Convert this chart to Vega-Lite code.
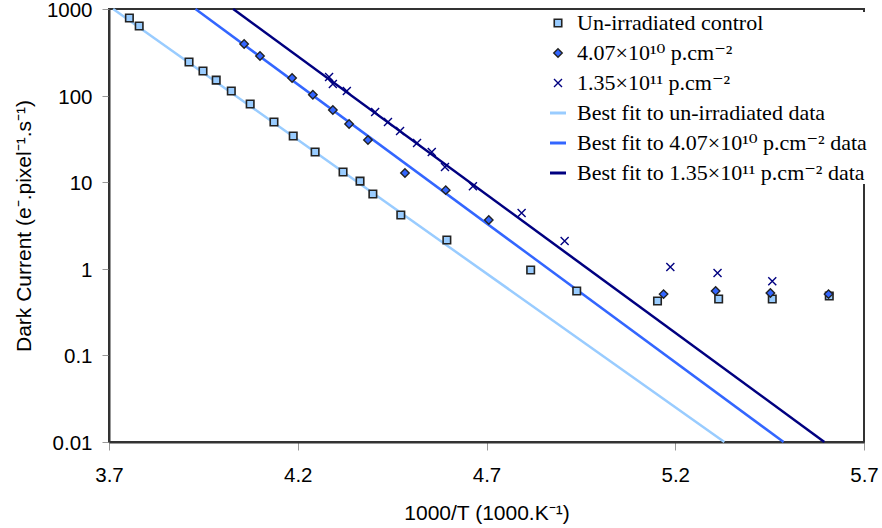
{
  "$schema": "https://vega.github.io/schema/vega-lite/v6.json",
  "width": 755,
  "height": 433,
  "autosize": {"type": "none"},
  "padding": {"left": 109, "top": 9, "right": 18, "bottom": 86},
  "background": "white",
  "config": {
    "view": {"stroke": "#333333", "strokeWidth": 2},
    "axis": {
      "grid": false,
      "domainColor": "#333333",
      "domainWidth": 2,
      "tickColor": "#999999",
      "tickWidth": 1,
      "tickSize": 7,
      "labelFont": "Liberation Sans",
      "labelFontSize": 20.5,
      "labelColor": "#000000",
      "titleFont": "Liberation Sans",
      "titleFontSize": 21,
      "titleFontWeight": "normal",
      "titleColor": "#000000",
      "labelOverlap": false,
      "labelFlush": false
    },
    "axisX": {"labelPadding": 15, "titlePadding": 17, "tickSize": 8},
    "axisY": {"labelPadding": 10, "titlePadding": 12, "labelOffset": 1.5},
    "legend": {
      "orient": "none",
      "legendX": 438,
      "legendY": 3,
      "labelFont": "Liberation Serif, DejaVu Serif",
      "labelFontSize": 22,
      "labelColor": "#000000",
      "labelOffset": 8,
      "rowPadding": 8,
      "padding": 0,
      "labelLimit": 400,
      "fillColor": "white"
    }
  },
  "datasets": {
    "points": [
      {"series": "Un-irradiated control", "x": 3.754, "y": 787},
      {"series": "Un-irradiated control", "x": 3.780, "y": 637},
      {"series": "Un-irradiated control", "x": 3.912, "y": 244},
      {"series": "Un-irradiated control", "x": 3.949, "y": 192},
      {"series": "Un-irradiated control", "x": 3.984, "y": 151},
      {"series": "Un-irradiated control", "x": 4.024, "y": 113},
      {"series": "Un-irradiated control", "x": 4.074, "y": 80},
      {"series": "Un-irradiated control", "x": 4.137, "y": 49.6},
      {"series": "Un-irradiated control", "x": 4.188, "y": 34.2},
      {"series": "Un-irradiated control", "x": 4.246, "y": 22.3},
      {"series": "Un-irradiated control", "x": 4.320, "y": 13.1},
      {"series": "Un-irradiated control", "x": 4.365, "y": 10.3},
      {"series": "Un-irradiated control", "x": 4.399, "y": 7.3},
      {"series": "Un-irradiated control", "x": 4.473, "y": 4.18},
      {"series": "Un-irradiated control", "x": 4.595, "y": 2.15},
      {"series": "Un-irradiated control", "x": 4.817, "y": 0.97},
      {"series": "Un-irradiated control", "x": 4.939, "y": 0.555},
      {"series": "Un-irradiated control", "x": 5.153, "y": 0.425},
      {"series": "Un-irradiated control", "x": 5.315, "y": 0.448},
      {"series": "Un-irradiated control", "x": 5.457, "y": 0.448},
      {"series": "Un-irradiated control", "x": 5.608, "y": 0.485},
      {"series": "4.07×10¹⁰ p.cm⁻²", "x": 4.058, "y": 394},
      {"series": "4.07×10¹⁰ p.cm⁻²", "x": 4.100, "y": 287},
      {"series": "4.07×10¹⁰ p.cm⁻²", "x": 4.185, "y": 160},
      {"series": "4.07×10¹⁰ p.cm⁻²", "x": 4.240, "y": 102},
      {"series": "4.07×10¹⁰ p.cm⁻²", "x": 4.293, "y": 68},
      {"series": "4.07×10¹⁰ p.cm⁻²", "x": 4.336, "y": 47},
      {"series": "4.07×10¹⁰ p.cm⁻²", "x": 4.386, "y": 30.7},
      {"series": "4.07×10¹⁰ p.cm⁻²", "x": 4.484, "y": 12.8},
      {"series": "4.07×10¹⁰ p.cm⁻²", "x": 4.592, "y": 8.1},
      {"series": "4.07×10¹⁰ p.cm⁻²", "x": 4.706, "y": 3.66},
      {"series": "4.07×10¹⁰ p.cm⁻²", "x": 5.169, "y": 0.51},
      {"series": "4.07×10¹⁰ p.cm⁻²", "x": 5.307, "y": 0.555},
      {"series": "4.07×10¹⁰ p.cm⁻²", "x": 5.452, "y": 0.526},
      {"series": "4.07×10¹⁰ p.cm⁻²", "x": 5.606, "y": 0.51},
      {"series": "1.35×10¹¹ p.cm⁻²", "x": 4.283, "y": 164},
      {"series": "1.35×10¹¹ p.cm⁻²", "x": 4.293, "y": 136},
      {"series": "1.35×10¹¹ p.cm⁻²", "x": 4.330, "y": 113},
      {"series": "1.35×10¹¹ p.cm⁻²", "x": 4.405, "y": 64.7},
      {"series": "1.35×10¹¹ p.cm⁻²", "x": 4.439, "y": 49.6},
      {"series": "1.35×10¹¹ p.cm⁻²", "x": 4.471, "y": 39},
      {"series": "1.35×10¹¹ p.cm⁻²", "x": 4.516, "y": 28.4},
      {"series": "1.35×10¹¹ p.cm⁻²", "x": 4.555, "y": 22.3},
      {"series": "1.35×10¹¹ p.cm⁻²", "x": 4.590, "y": 15},
      {"series": "1.35×10¹¹ p.cm⁻²", "x": 4.664, "y": 9.0},
      {"series": "1.35×10¹¹ p.cm⁻²", "x": 4.793, "y": 4.41},
      {"series": "1.35×10¹¹ p.cm⁻²", "x": 4.907, "y": 2.09},
      {"series": "1.35×10¹¹ p.cm⁻²", "x": 5.187, "y": 1.05},
      {"series": "1.35×10¹¹ p.cm⁻²", "x": 5.312, "y": 0.895},
      {"series": "1.35×10¹¹ p.cm⁻²", "x": 5.457, "y": 0.72}
    ],
    "fits": [
      {"series": "Best fit to un-irradiated data", "x": 3.711, "y": 1000},
      {"series": "Best fit to un-irradiated data", "x": 5.330, "y": 0.01},
      {"series": "Best fit to 4.07×10¹⁰ p.cm⁻² data", "x": 3.929, "y": 1000},
      {"series": "Best fit to 4.07×10¹⁰ p.cm⁻² data", "x": 5.487, "y": 0.01},
      {"series": "Best fit to 1.35×10¹¹ p.cm⁻² data", "x": 4.029, "y": 1000},
      {"series": "Best fit to 1.35×10¹¹ p.cm⁻² data", "x": 5.595, "y": 0.01}
    ]
  },
  "encoding": {
    "x": {
      "field": "x",
      "type": "quantitative",
      "scale": {"domain": [3.7, 5.7], "nice": false, "zero": false},
      "axis": {"values": [3.7, 4.2, 4.7, 5.2, 5.7], "format": ".1f", "title": "1000/T (1000.K⁻¹)"}
    },
    "y": {
      "field": "y",
      "type": "quantitative",
      "scale": {"type": "log", "domain": [0.01, 1000], "nice": false},
      "axis": {"values": [0.01, 0.1, 1, 10, 100, 1000], "format": "~g", "title": "Dark Current (e⁻.pixel⁻¹.s⁻¹)"}
    }
  },
  "layer": [
    {
      "data": {"name": "fits"},
      "mark": {"type": "line", "strokeWidth": 2.5},
      "encoding": {
        "stroke": {
          "field": "series",
          "type": "nominal",
          "legend": {"title": null},
          "scale": {
            "domain": ["Un-irradiated control", "4.07×10¹⁰ p.cm⁻²", "1.35×10¹¹ p.cm⁻²", "Best fit to un-irradiated data", "Best fit to 4.07×10¹⁰ p.cm⁻² data", "Best fit to 1.35×10¹¹ p.cm⁻² data"],
            "range": ["#222222", "#222222", "#000080", "#99CCFF", "#3366FF", "#000080"]
          }
        }
      }
    },
    {
      "data": {"name": "points"},
      "mark": {"type": "point", "filled": true, "opacity": 1},
      "encoding": {
        "stroke": {
          "field": "series",
          "type": "nominal",
          "legend": {"title": null},
          "scale": {
            "domain": ["Un-irradiated control", "4.07×10¹⁰ p.cm⁻²", "1.35×10¹¹ p.cm⁻²", "Best fit to un-irradiated data", "Best fit to 4.07×10¹⁰ p.cm⁻² data", "Best fit to 1.35×10¹¹ p.cm⁻² data"],
            "range": ["#222222", "#222222", "#000080", "#99CCFF", "#3366FF", "#000080"]
          }
        },
        "fill": {
          "field": "series",
          "type": "nominal",
          "legend": {"title": null},
          "scale": {
            "domain": ["Un-irradiated control", "4.07×10¹⁰ p.cm⁻²", "1.35×10¹¹ p.cm⁻²", "Best fit to un-irradiated data", "Best fit to 4.07×10¹⁰ p.cm⁻² data", "Best fit to 1.35×10¹¹ p.cm⁻² data"],
            "range": ["#99CCFF", "#3366FF", "#000080", "#99CCFF", "#3366FF", "#000080"]
          }
        },
        "shape": {
          "field": "series",
          "type": "nominal",
          "legend": {"title": null},
          "scale": {
            "domain": ["Un-irradiated control", "4.07×10¹⁰ p.cm⁻²", "1.35×10¹¹ p.cm⁻²", "Best fit to un-irradiated data", "Best fit to 4.07×10¹⁰ p.cm⁻² data", "Best fit to 1.35×10¹¹ p.cm⁻² data"],
            "range": ["square", "diamond", "M-1,-1L1,1M-1,1L1,-1", "stroke", "stroke", "stroke"]
          }
        },
        "size": {
          "field": "series",
          "type": "nominal",
          "legend": {"title": null},
          "scale": {
            "type": "ordinal",
            "domain": ["Un-irradiated control", "4.07×10¹⁰ p.cm⁻²", "1.35×10¹¹ p.cm⁻²", "Best fit to un-irradiated data", "Best fit to 4.07×10¹⁰ p.cm⁻² data", "Best fit to 1.35×10¹¹ p.cm⁻² data"],
            "range": [56, 72, 64, 256, 256, 256]
          }
        },
        "strokeWidth": {
          "field": "series",
          "type": "nominal",
          "legend": {"title": null},
          "scale": {
            "type": "ordinal",
            "domain": ["Un-irradiated control", "4.07×10¹⁰ p.cm⁻²", "1.35×10¹¹ p.cm⁻²", "Best fit to un-irradiated data", "Best fit to 4.07×10¹⁰ p.cm⁻² data", "Best fit to 1.35×10¹¹ p.cm⁻² data"],
            "range": [1.6, 1.4, 1.4, 3, 3, 3]
          }
        }
      }
    }
  ]
}
